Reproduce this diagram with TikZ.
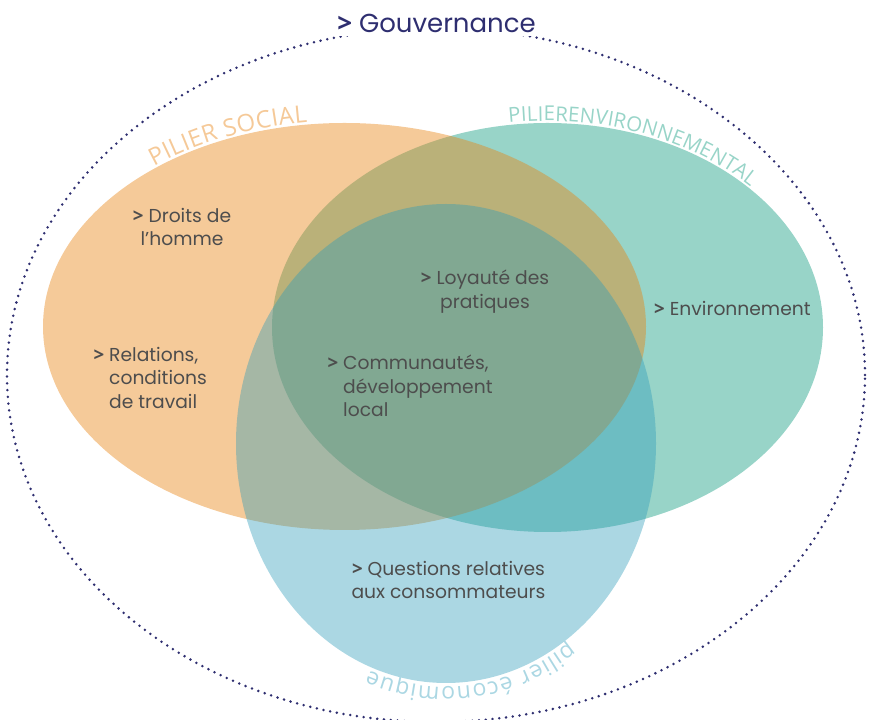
\documentclass[tikz,border=0pt]{standalone}
\usepackage{fontspec}
\setmainfont{Poppins}
\newfontfamily\labelfont{Open Sans}
\newcommand{\bulletgt}{{\labelfont\bfseries >}}
\usetikzlibrary{decorations.text,calc}
\definecolor{tealc}{RGB}{152,212,200}
\definecolor{orangec}{RGB}{232,131,18}
\definecolor{bluec}{RGB}{45,155,185}
\definecolor{navy}{RGB}{46,46,112}
\definecolor{txt}{RGB}{77,77,77}
\definecolor{lblorange}{RGB}{245,201,152}
\definecolor{lblteal}{RGB}{152,212,200}
\definecolor{lblblue}{RGB}{171,215,227}
\begin{document}
\begin{tikzpicture}[x=1pt,y=1pt,
  item/.style={text=txt, font=\fontsize{18.7}{23.5}\selectfont, inner sep=0pt},
  arclabel/.style={decorate, decoration={text along path, text align=fit to path, raise=#1}}]
\useasboundingbox (0,0) rectangle (870,720);
\coordinate (cO) at (436,345);
\coordinate (cS) at (344.5,393.5);
\coordinate (cE) at (547.5,392.5);
\coordinate (cB) at (446,276.5);
% pillars
\fill[tealc] (cE) ellipse [x radius=275.5, y radius=204.5];
\fill[orangec, fill opacity=0.43] (cS) ellipse [x radius=301.5, y radius=203.5];
\fill[bluec, fill opacity=0.4] (cB) ellipse [x radius=210, y radius=239.5];
% governance
\draw[navy, line width=2.8pt, line cap=round, dash pattern=on 0pt off 6.8pt] (cO) ellipse [x radius=429, y radius=347];
\node[fill=white, inner sep=3pt, text=navy, font=\fontsize{26}{30}\selectfont, anchor=base] (gouv) at (436.5,687) {\bulletgt\ Gouvernance};
% curved labels
\path[arclabel=2pt, decoration={text={|\labelfont\fontsize{24}{24}\selectfont\color{lblorange}|PILIER SOCIAL}}]
  ($(cS)+(129:301.5 and 203.5)$) arc [start angle=129, end angle=97, x radius=301.5, y radius=203.5];
\path[arclabel=2pt, decoration={text={|\labelfont\fontsize{20.5}{20.5}\selectfont\color{lblteal}|PILIERENVIRONNEMENTAL}}]
  ($(cE)+(98:275.5 and 204.5)$) arc [start angle=98, end angle=43, x radius=275.5, y radius=204.5];
\path[arclabel=4pt, decoration={text={|\labelfont\fontsize{23}{23}\selectfont\color{lblblue}|pilier économique}}]
  ($(cB)+(-55:210 and 239.5)$) arc [start angle=-55, end angle=-111, x radius=210, y radius=239.5];
% items
\node[item, anchor=north, align=center] (droits) at (182,512) {\bulletgt\ Droits de\\l’homme};
\node[item, anchor=north west, align=left] (relations) at (109,373) {\llap{\bulletgt\hspace{5pt}}Relations,\\conditions\\de travail};
\node[item, anchor=north, align=center] (loyaute) at (485,450) {\bulletgt\ Loyauté des\\pratiques};
\node[item, anchor=north west, align=left] (commu) at (343,365) {\llap{\bulletgt\hspace{5pt}}Communautés,\\développement\\local};
\node[item, anchor=base west] (env) at (654,404) {\bulletgt\ Environnement};
\node[item, anchor=north, align=center] (questions) at (448.5,159) {\bulletgt\ Questions relatives\\aux consommateurs};
\end{tikzpicture}
\end{document}
